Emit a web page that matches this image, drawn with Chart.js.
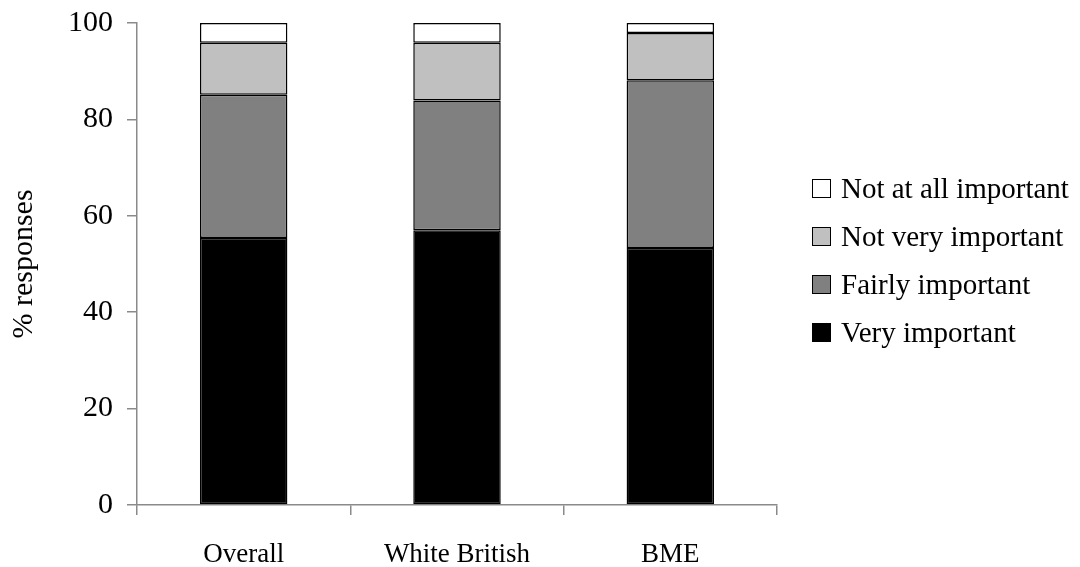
<!DOCTYPE html>
<html>
<head>
<meta charset="utf-8">
<script src="https://cdn.jsdelivr.net/npm/chart.js@4.4.0/dist/chart.umd.min.js"></script>
<style>
    html, body { margin: 0; padding: 0; background: #ffffff; }
    #wrap { position: relative; width: 1080px; height: 567px; }
    #legend { position: absolute; left: 812px; top: 164px; font-family: "Liberation Serif", "Times New Roman", serif; font-size: 29px; color: #000; }
    .item { height: 48px; display: flex; align-items: center; white-space: nowrap; }
    .box { width: 17px; height: 17px; border: 1.5px solid #000; margin-right: 10px; box-sizing: content-box; }
</style>
</head>
<body>
<div id="wrap">
    <canvas id="myChart" width="1080" height="567"></canvas>
    <div id="legend"></div>
</div>
<script>
// categorias y series (% responses)
let categorias = ['Overall', 'White British', 'BME'];
let muyImportante = [55.4, 57, 53.3];
let bastanteImportante = [29.7, 26.9, 34.8];
let pocoImportante = [10.8, 12, 9.8];
let nadaImportante = [4.1, 4.1, 2.1];
let ticksY = [0, 20, 40, 60, 80, 100];

let fuente = '"Liberation Serif", "Times New Roman", serif';
let gris = '#8a8a8a';

let datasets = [
    { label: 'Very important', data: muyImportante, backgroundColor: '#000000', borderColor: '#000000' },
    { label: 'Fairly important', data: bastanteImportante, backgroundColor: '#808080', borderColor: '#000000' },
    { label: 'Not very important', data: pocoImportante, backgroundColor: '#c0c0c0', borderColor: '#000000' },
    { label: 'Not at all important', data: nadaImportante, backgroundColor: '#ffffff', borderColor: '#000000' }
];
datasets.forEach(function (ds) {
    ds.borderWidth = 1.5;
    ds.borderSkipped = false;
    ds.categoryPercentage = 1;
    ds.barPercentage = 0.41;
});

Chart.defaults.font.family = fuente;
Chart.defaults.color = '#000000';

let ctx = document.getElementById('myChart').getContext('2d');
let grafica = new Chart(ctx, {
    type: 'bar',
    data: { labels: categorias, datasets: datasets },
    options: {
        responsive: false,
        animation: false,
        layout: { padding: { top: 23, right: 303, left: 0, bottom: 0 } },
        plugins: {
            legend: { display: false },
            tooltip: { enabled: false }
        },
        scales: {
            x: {
                stacked: true,
                grid: { display: true, drawOnChartArea: false, drawTicks: true, tickLength: 10, color: gris, lineWidth: 1.5, offset: true },
                border: { color: gris, width: 1.5 },
                ticks: { font: { size: 27 }, padding: 24, color: '#000' },
                afterFit: function (scale) {
                    scale.height = 62;
                    scale.paddingLeft = 0;
                    scale.paddingRight = 0;
                }
            },
            y: {
                stacked: true,
                min: 0,
                max: 100,
                afterBuildTicks: function (scale) {
                    scale.ticks = ticksY.map(function (v) { return { value: v }; });
                },
                grid: { display: true, drawOnChartArea: false, drawTicks: true, tickLength: 10, color: gris, lineWidth: 1.5 },
                border: { color: gris, width: 1.5 },
                ticks: { font: { size: 30 }, padding: 14, color: '#000' },
                title: { display: true, text: '% responses', font: { size: 30 }, padding: { top: 6, bottom: 0 }, color: '#000' },
                afterFit: function (scale) {
                    scale.width = 137;
                    scale.paddingTop = 0;
                    scale.paddingBottom = 0;
                }
            }
        }
    }
});

// leyenda en HTML, orden invertido como en el original
let leyenda = document.getElementById('legend');
datasets.slice().reverse().forEach(function (ds) {
    let fila = document.createElement('div');
    fila.className = 'item';
    let caja = document.createElement('span');
    caja.className = 'box';
    caja.style.background = ds.backgroundColor;
    let texto = document.createElement('span');
    texto.textContent = ds.label;
    fila.appendChild(caja);
    fila.appendChild(texto);
    leyenda.appendChild(fila);
});
</script>
</body>
</html>
